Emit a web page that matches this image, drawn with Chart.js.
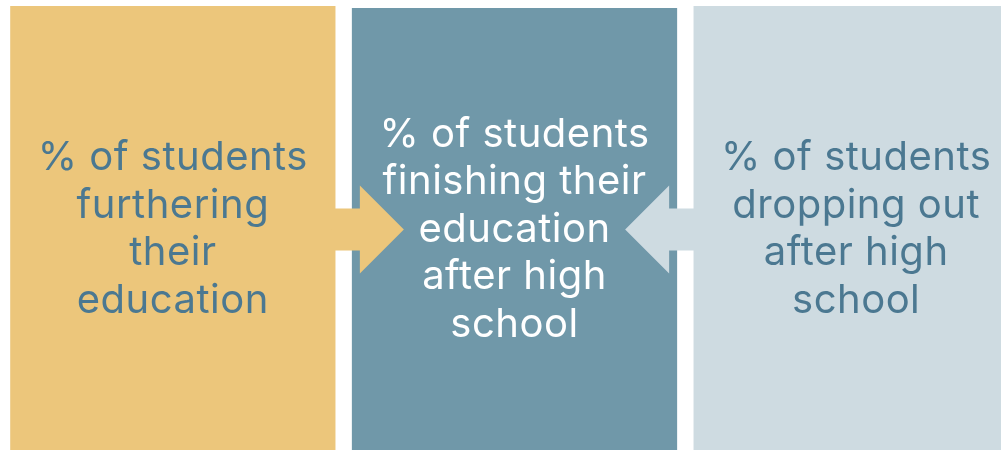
<!DOCTYPE html>
<html>
<head>
<meta charset="utf-8">
<script src="https://cdn.jsdelivr.net/npm/chart.js@4"></script>
<style>
  html, body { margin: 0; padding: 0; background: #ffffff; overflow: hidden; width: 1001px; height: 450px; }
  #wrap { position: absolute; left: 0; top: 0; width: 1027px; height: 460px; }
</style>
</head>
<body>
<div id="wrap"><canvas id="c"></canvas></div>
<script>
// ---- data ----
const categories = [
  "% of students furthering their education",
  "% of students finishing their education after high school",
  "% of students dropping out after high school"
];
const labelLines = [
  ["% of students", "furthering", "their", "education"],
  ["% of students", "finishing their", "education", "after high", "school"],
  ["% of students", "dropping out", "after high", "school"]
];
const boxHeights = [100, 99.56, 100];

// ---- styles ----
const boxColors = ["#ECC67B", "#7098A9", "#CEDBE1"];
const textColors = ["#4B7891", "#FFFFFF", "#4B7891"];
const FONT = "400 40px Inter, 'Open Sans', sans-serif";
const LINE_H = 47.5;
const MID_Y = 229.5;

const overlay = {
  id: "overlay",
  afterDatasetsDraw(chart) {
    const ctx = chart.ctx;
    const bars = chart.getDatasetMeta(0).data;
    const edge = (b, side) => b.x + side * b.width / 2;

    function arrow(x0, tip, color) {
      const dir = Math.sign(tip - x0);
      const headBase = tip - dir * 44;
      ctx.save();
      ctx.fillStyle = color;
      ctx.beginPath();
      ctx.moveTo(x0, MID_Y - 21);
      ctx.lineTo(headBase, MID_Y - 21);
      ctx.lineTo(headBase, MID_Y - 44);
      ctx.lineTo(tip, MID_Y);
      ctx.lineTo(headBase, MID_Y + 44);
      ctx.lineTo(headBase, MID_Y + 21);
      ctx.lineTo(x0, MID_Y + 21);
      ctx.closePath();
      ctx.fill();
      ctx.restore();
    }
    // arrow from first box into second
    arrow(edge(bars[0], 1) - 4, edge(bars[1], -1) + 52, boxColors[0]);
    // arrow from third box into second
    arrow(edge(bars[2], -1) + 4, edge(bars[1], 1) - 52, boxColors[2]);

    ctx.save();
    ctx.font = FONT;
    ctx.letterSpacing = "0.5px";
    ctx.textAlign = "center";
    ctx.textBaseline = "middle";
    bars.forEach((b, i) => {
      const lines = labelLines[i];
      const start = MID_Y - (lines.length - 1) * LINE_H / 2;
      ctx.fillStyle = textColors[i];
      lines.forEach((t, j) => ctx.fillText(t, b.x, start + j * LINE_H));
    });
    ctx.restore();
  }
};

new Chart(document.getElementById("c"), {
  type: "bar",
  data: {
    labels: categories,
    datasets: [{
      data: boxHeights,
      backgroundColor: boxColors,
      borderWidth: 0,
      barPercentage: 0.952,
      categoryPercentage: 1
    }]
  },
  options: {
    responsive: true,
    maintainAspectRatio: false,
    animation: false,
    layout: { padding: { left: 2, top: 6, right: 0, bottom: 0 } },
    plugins: { legend: { display: false }, tooltip: { enabled: false } },
    scales: {
      x: { display: false, offset: true },
      y: { display: false, min: 0, max: 100 }
    }
  },
  plugins: [overlay]
});
</script>
</body>
</html>
